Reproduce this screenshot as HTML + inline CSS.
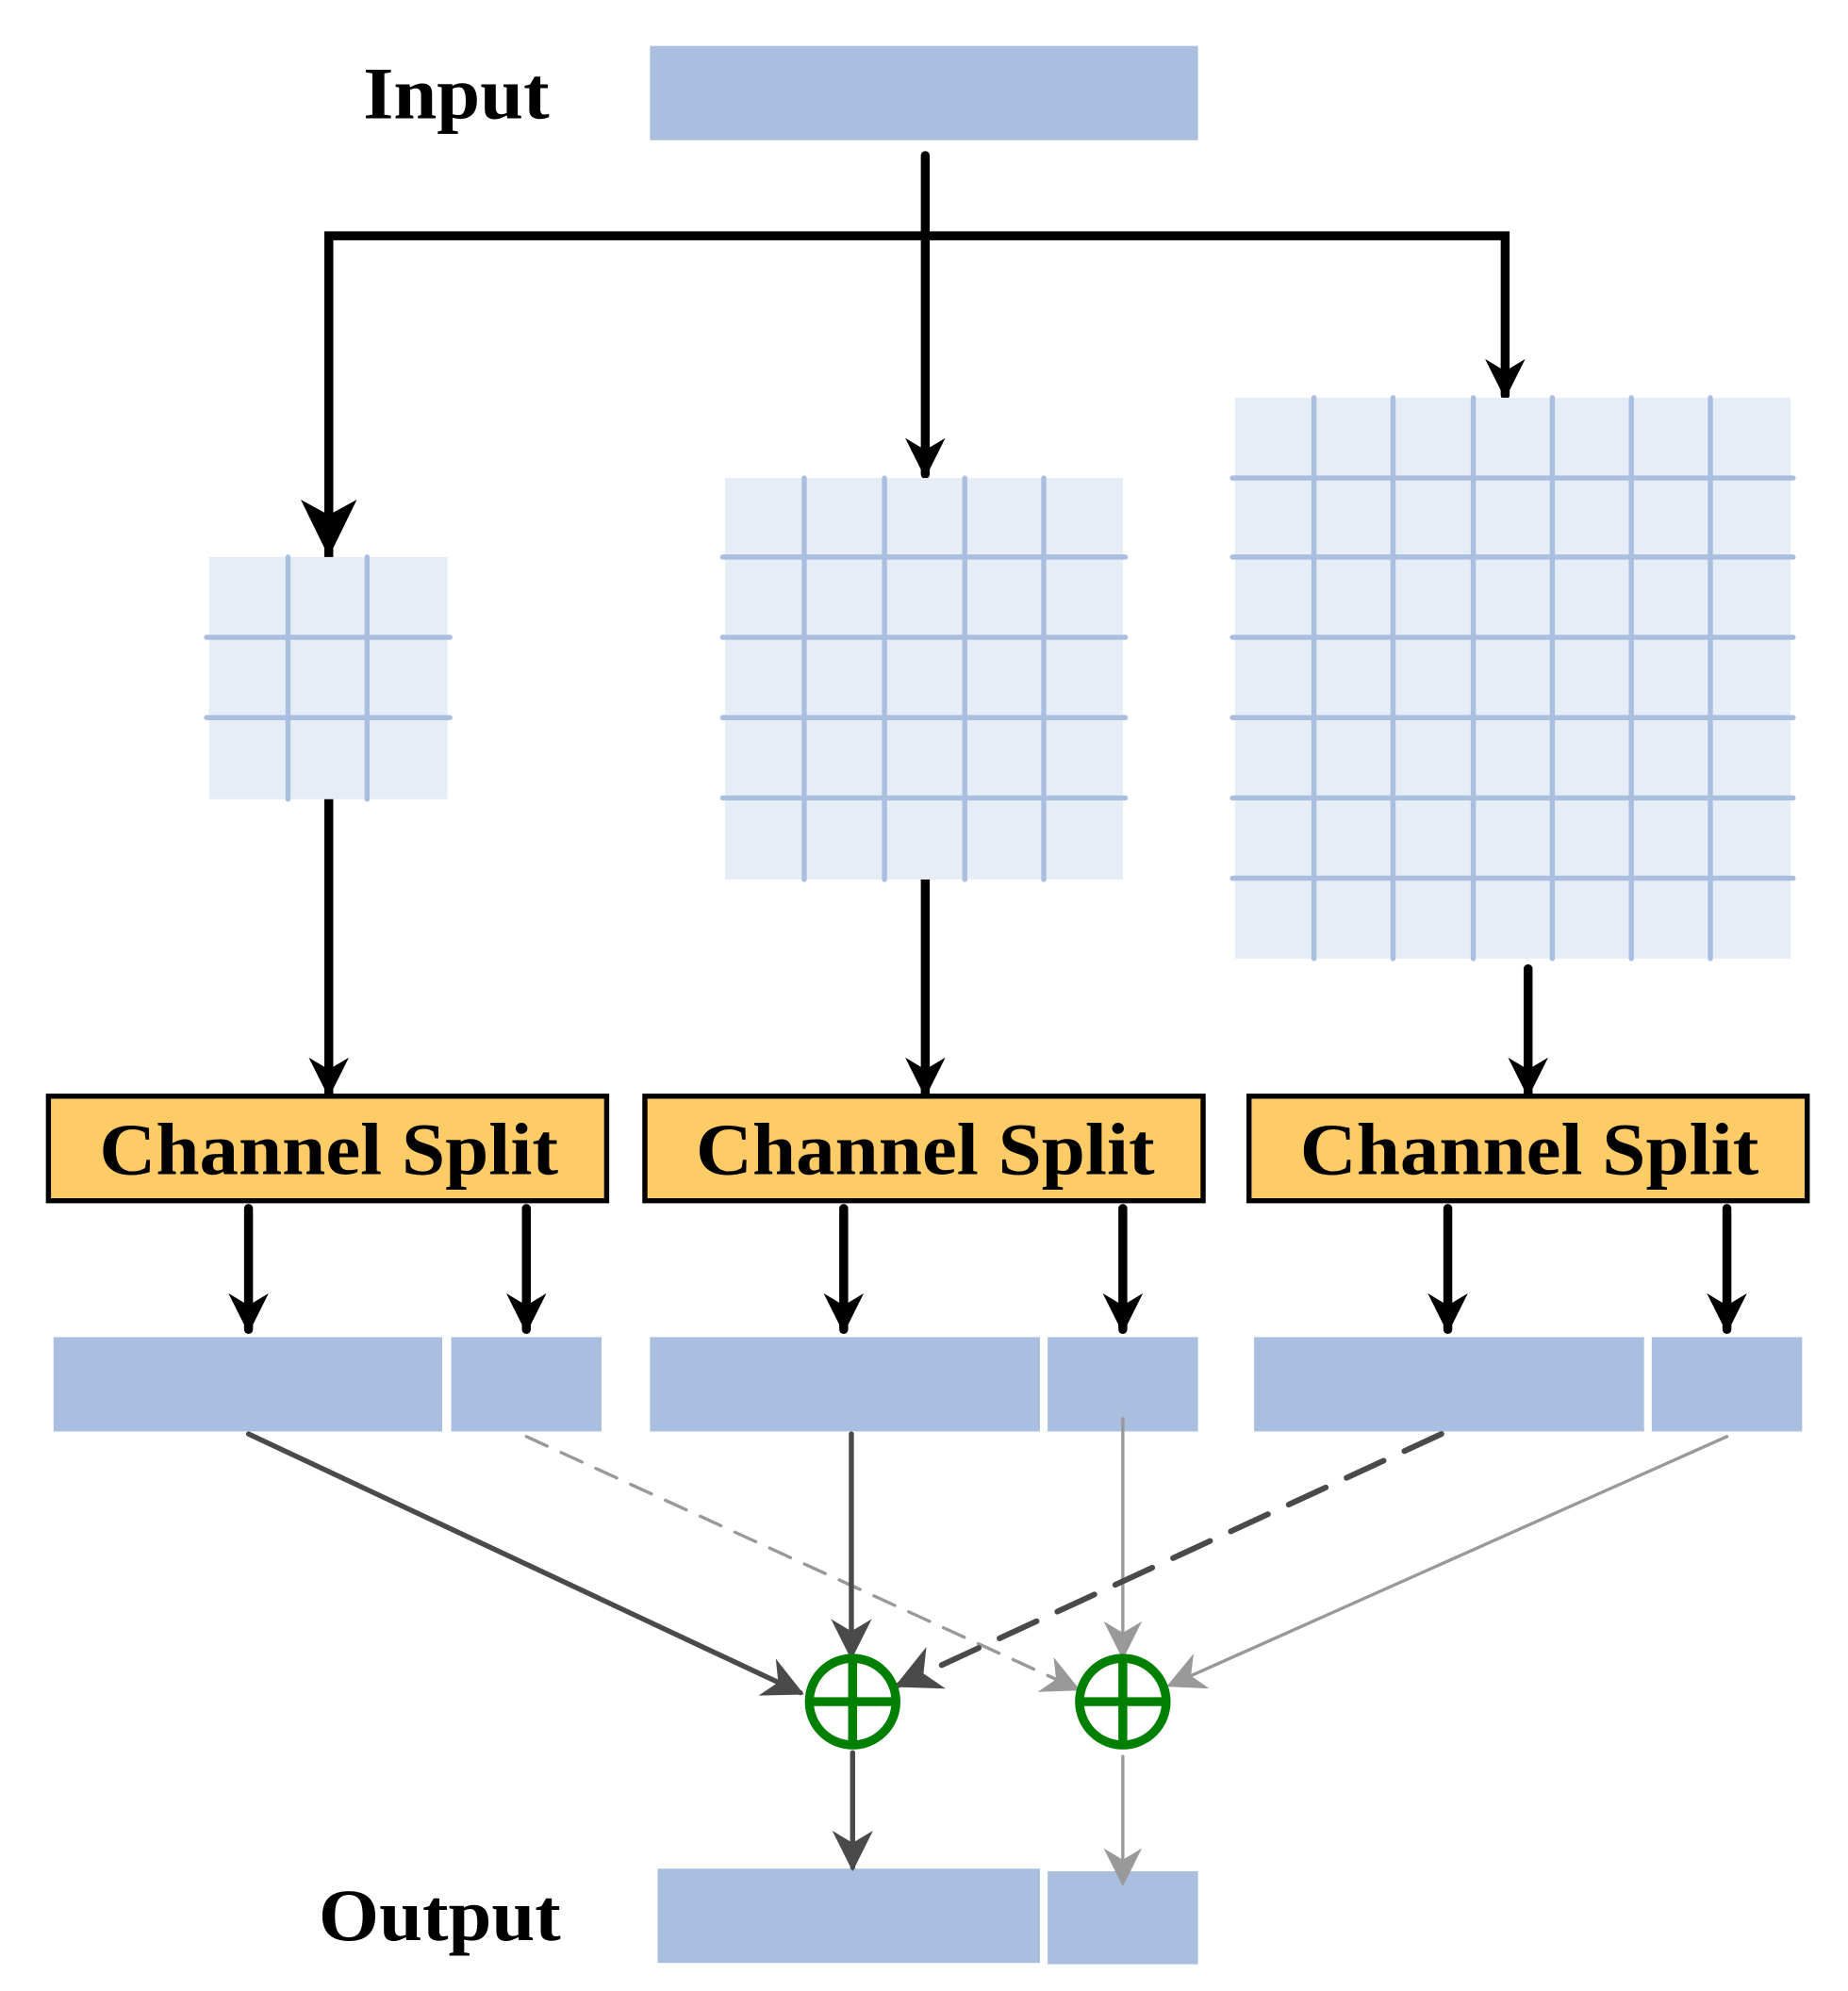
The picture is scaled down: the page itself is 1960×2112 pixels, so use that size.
<!DOCTYPE html>
<html><head><meta charset="utf-8"><style>html,body{margin:0;padding:0;background:#fff}svg{display:block}</style></head>
<body>
<svg width="1960" height="2112" viewBox="0 0 1450 1562" preserveAspectRatio="none" xmlns="http://www.w3.org/2000/svg">
<defs>
<marker id="ab" viewBox="0 0 10 10" refX="9" refY="5" markerWidth="4.5" markerHeight="4.5" orient="auto" markerUnits="strokeWidth"><path d="M0,0 L10,5 L0,10 L3,5 z" fill="#000"/></marker>
<marker id="ad" viewBox="0 0 10 10" refX="9" refY="5" markerWidth="8" markerHeight="8" orient="auto" markerUnits="strokeWidth"><path d="M0,0 L10,5 L0,10 L3,5 z" fill="#4a4a4a"/></marker>
<marker id="ag" viewBox="0 0 10 10" refX="9" refY="5" markerWidth="12" markerHeight="12" orient="auto" markerUnits="strokeWidth"><path d="M0,0 L10,5 L0,10 L3,5 z" fill="#999"/></marker>
</defs>
<g font-family="Liberation Serif, serif" font-weight="bold" fill="#000">
<text x="285" y="93" font-size="58" textLength="146" lengthAdjust="spacingAndGlyphs">Input</text>
<text x="250" y="1522" font-size="58" textLength="190" lengthAdjust="spacingAndGlyphs">Output</text>
</g>
<rect x="510" y="36" width="430" height="74" fill="#aabfe0"/>
<g stroke="#000" stroke-width="7" fill="none" stroke-linecap="round">
<line x1="726" y1="122" x2="726" y2="372" marker-end="url(#ab)"/>
<polyline points="258,437 258,185 1181,185 1181,310" marker-end="url(#ab)"/>
<line x1="258" y1="627" x2="258" y2="858" marker-end="url(#ab)"/>
<line x1="726" y1="690" x2="726" y2="858" marker-end="url(#ab)"/>
<line x1="1199" y1="760" x2="1199" y2="858" marker-end="url(#ab)"/>
<line x1="195" y1="948" x2="195" y2="1043" marker-end="url(#ab)"/>
<line x1="413" y1="948" x2="413" y2="1043" marker-end="url(#ab)"/>
<line x1="662" y1="948" x2="662" y2="1043" marker-end="url(#ab)"/>
<line x1="881" y1="948" x2="881" y2="1043" marker-end="url(#ab)"/>
<line x1="1136" y1="948" x2="1136" y2="1043" marker-end="url(#ab)"/>
<line x1="1355" y1="948" x2="1355" y2="1043" marker-end="url(#ab)"/>
</g>
<line x1="258" y1="185" x2="258" y2="430" stroke="#000" stroke-width="7"/>
<path d="M258,437 L236,392 L258,404 L280,392 z" fill="#000"/>
<!-- grids -->
<g fill="#e6edf7"><rect x="164" y="437" width="187" height="190"/><rect x="569" y="375" width="312" height="315"/><rect x="969" y="312" width="436" height="440"/></g>
<g stroke="#aabfe0" stroke-width="4" stroke-linecap="round">
<line x1="226" y1="437" x2="226" y2="627"/><line x1="288" y1="437" x2="288" y2="627"/>
<line x1="162" y1="500" x2="353" y2="500"/><line x1="162" y1="563" x2="353" y2="563"/>
<line x1="631" y1="375" x2="631" y2="690"/><line x1="694" y1="375" x2="694" y2="690"/><line x1="757" y1="375" x2="757" y2="690"/><line x1="819" y1="375" x2="819" y2="690"/>
<line x1="567" y1="437" x2="883" y2="437"/><line x1="567" y1="500" x2="883" y2="500"/><line x1="567" y1="563" x2="883" y2="563"/><line x1="567" y1="626" x2="883" y2="626"/>
<line x1="1031" y1="312" x2="1031" y2="752"/><line x1="1093" y1="312" x2="1093" y2="752"/><line x1="1156" y1="312" x2="1156" y2="752"/><line x1="1218" y1="312" x2="1218" y2="752"/><line x1="1280" y1="312" x2="1280" y2="752"/><line x1="1342" y1="312" x2="1342" y2="752"/>
<line x1="967" y1="375" x2="1407" y2="375"/><line x1="967" y1="437" x2="1407" y2="437"/><line x1="967" y1="500" x2="1407" y2="500"/><line x1="967" y1="563" x2="1407" y2="563"/><line x1="967" y1="626" x2="1407" y2="626"/><line x1="967" y1="689" x2="1407" y2="689"/>
</g>
<!-- channel split -->
<g fill="#fecc66" stroke="#000" stroke-width="4">
<rect x="38" y="860" width="438" height="82"/><rect x="506" y="860" width="438" height="82"/><rect x="980" y="860" width="438" height="82"/>
</g>
<g font-family="Liberation Serif, serif" font-weight="bold" font-size="58" fill="#000">
<text x="78" y="921" textLength="360" lengthAdjust="spacingAndGlyphs">Channel Split</text>
<text x="546" y="921" textLength="360" lengthAdjust="spacingAndGlyphs">Channel Split</text>
<text x="1020" y="921" textLength="360" lengthAdjust="spacingAndGlyphs">Channel Split</text>
</g>
<g fill="#aabfe0">
<rect x="42" y="1049" width="305" height="74"/><rect x="354" y="1049" width="118" height="74"/>
<rect x="510" y="1049" width="306" height="74"/><rect x="822" y="1049" width="118" height="74"/>
<rect x="984" y="1049" width="306" height="74"/><rect x="1296" y="1049" width="118" height="74"/>
<rect x="516" y="1466" width="300" height="74"/><rect x="822" y="1468" width="118" height="73"/>
</g>
<!-- merge lines -->
<g fill="none" stroke-linecap="round">
<line x1="195" y1="1125" x2="628" y2="1328" stroke="#4a4a4a" stroke-width="4" marker-end="url(#ad)"/>
<line x1="413" y1="1127" x2="845" y2="1325" stroke="#999" stroke-width="2.5" stroke-dasharray="18,12" marker-end="url(#ag)"/>
<line x1="668" y1="1125" x2="668" y2="1299" stroke="#4a4a4a" stroke-width="4" marker-end="url(#ad)"/>
<line x1="881" y1="1113" x2="881" y2="1299" stroke="#999" stroke-width="2.5" marker-end="url(#ag)"/>
<line x1="1131" y1="1125" x2="705" y2="1322" stroke="#4a4a4a" stroke-width="4.5" stroke-dasharray="32,18" marker-end="url(#ad)"/>
<line x1="1355" y1="1127" x2="918" y2="1322" stroke="#999" stroke-width="2.5" marker-end="url(#ag)"/>
<line x1="669" y1="1375" x2="669" y2="1465" stroke="#4a4a4a" stroke-width="4" marker-end="url(#ad)"/>
<line x1="881" y1="1378" x2="881" y2="1477" stroke="#999" stroke-width="2.5" marker-end="url(#ag)"/>
</g>
<g stroke="#008000" stroke-width="7" fill="#fff">
<circle cx="669" cy="1335" r="34"/><circle cx="881" cy="1335" r="34"/>
<path d="M669,1301 V1369 M635,1335 H703 M881,1301 V1369 M847,1335 H915" fill="none"/>
</g>
</svg>
</body></html>
